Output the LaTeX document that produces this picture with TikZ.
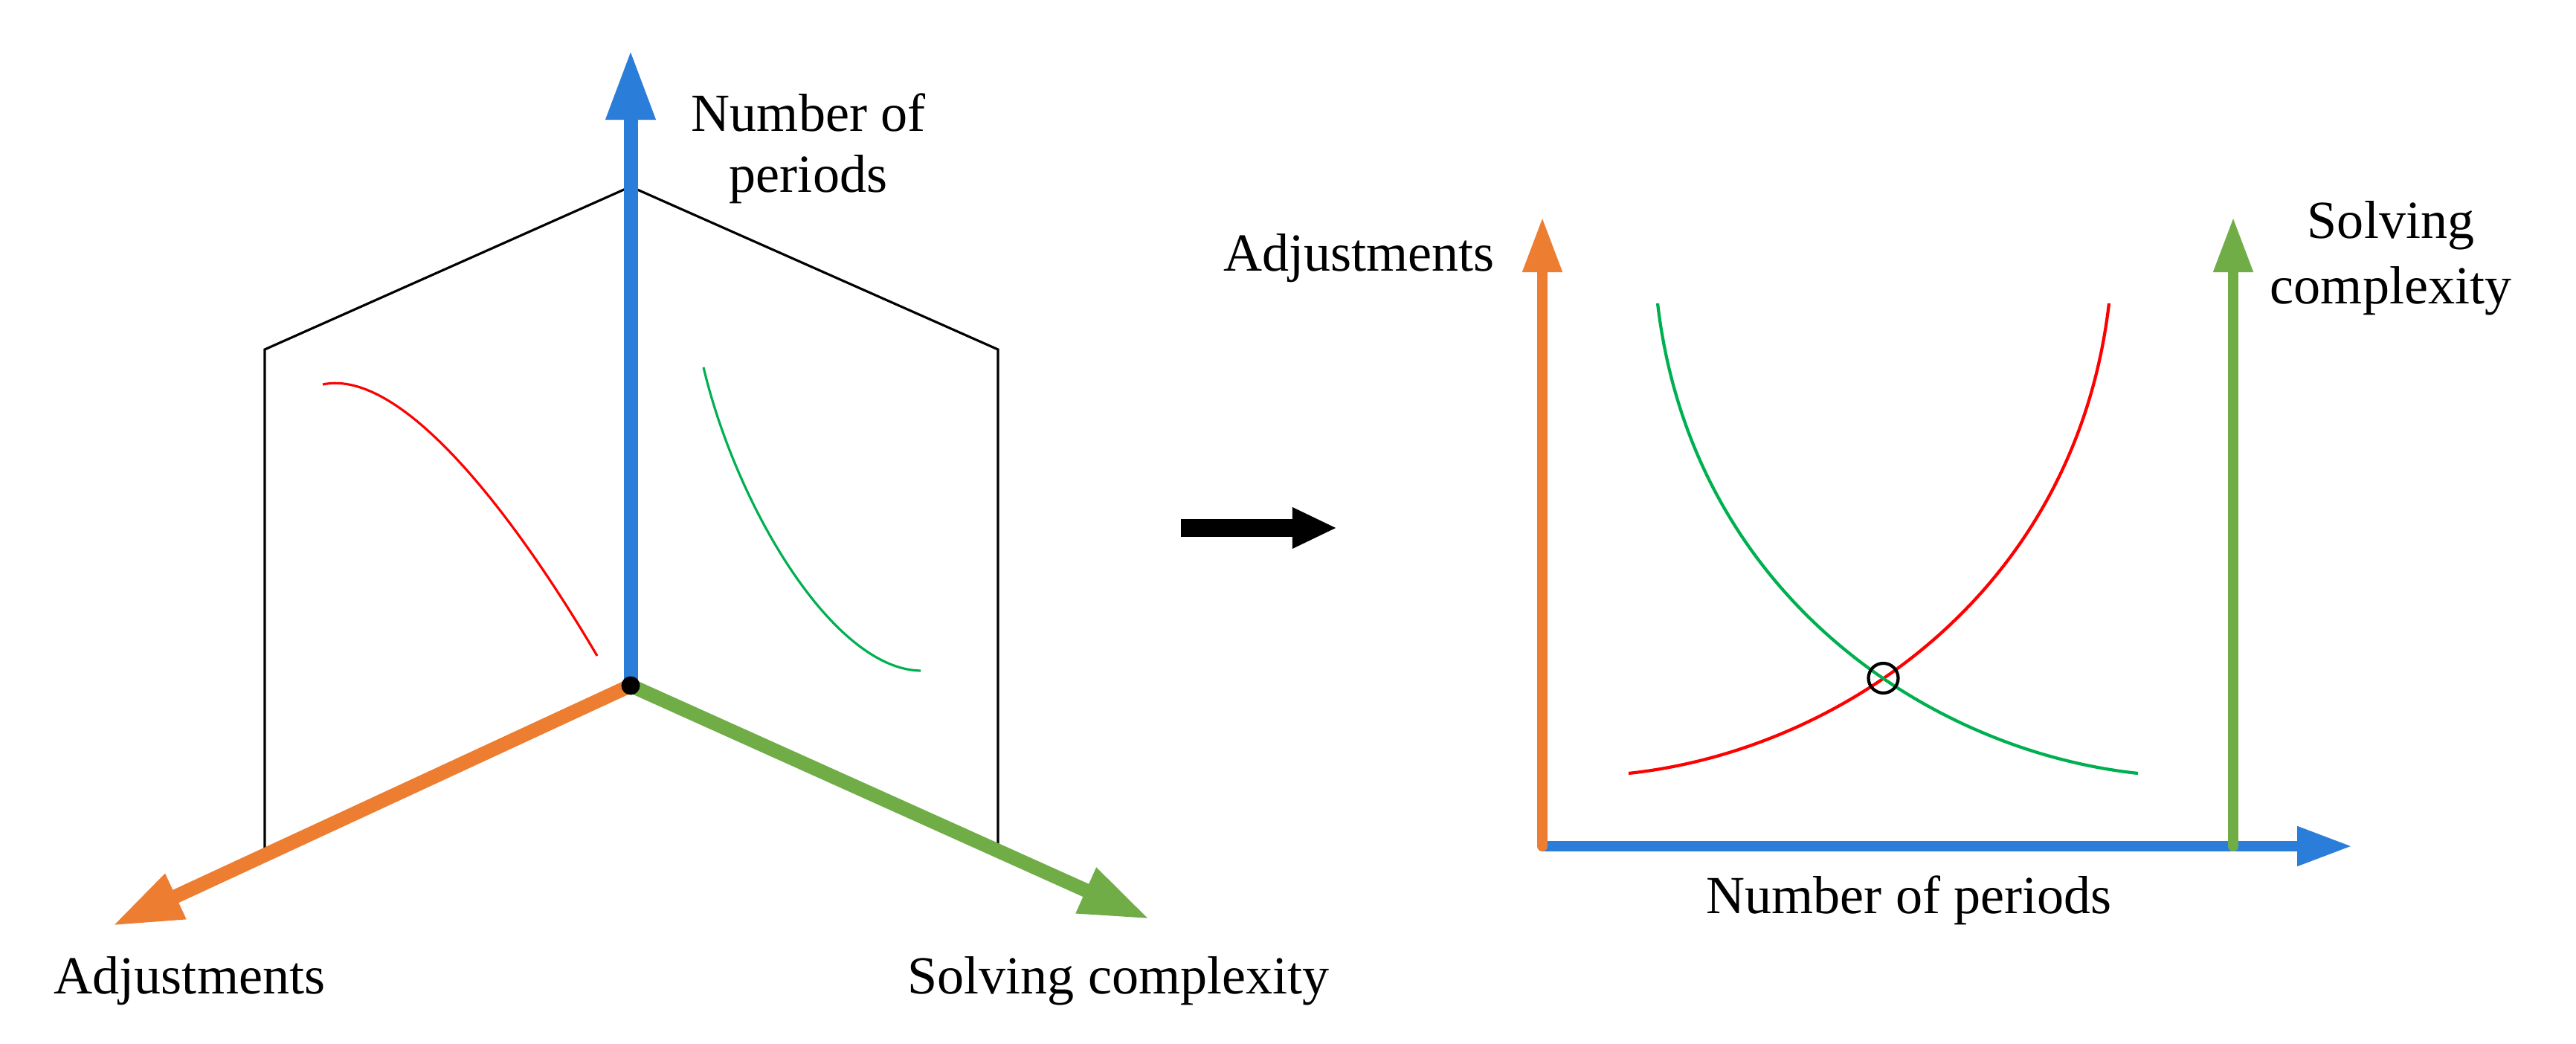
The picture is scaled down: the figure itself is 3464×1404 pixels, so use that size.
\documentclass[tikz,border=0pt]{standalone}
\usepackage{fontspec}
\setmainfont{Liberation Serif}
\usetikzlibrary{arrows.meta}
\definecolor{axblue}{HTML}{2A7DD8}
\definecolor{axorange}{HTML}{ED7D31}
\definecolor{axgreen}{HTML}{70AD47}
\definecolor{cvgreen}{HTML}{00B050}
\definecolor{cvred}{HTML}{FF0000}
\begin{document}
\begin{tikzpicture}[x=0.01cm,y=-0.01cm,
  bigaxis/.style={line width=5.4pt, -{Triangle[length=0.94cm,width=0.62cm]}},
  smallaxis/.style={line width=4pt, -{Triangle[length=0.74cm,width=0.5cm]}},
  frame/.style={black, line width=0.9pt, line join=miter},
  thincurve/.style={line width=0.9pt},
  curve/.style={line width=1.2pt},
  lbl/.style={font=\fontsize{20.5pt}{23.3pt}\selectfont, inner sep=0pt},
]
\useasboundingbox (0,0) rectangle (3464,1404);
\fill[white] (0,0) rectangle (3464,1404);

% ---- left 3D sketch ----
\coordinate (O) at (848,922);
\coordinate (Ztip) at (848,67);
\coordinate (Xtip) at (151,1245);
\coordinate (Ytip) at (1546,1236);
\coordinate (PL) at (356,1150);
\coordinate (PLT) at (356,470);
\coordinate (PT) at (848,251);
\coordinate (PRT) at (1342,470);
\coordinate (PR) at (1342,1144);

\draw[frame] (PL) -- (PLT) -- (PT) -- (PRT) -- (PR);
\draw[cvred, thincurve] (434,517) .. controls (540,495) and (690,690) .. (803,882);
\draw[cvgreen, thincurve] (946,494) .. controls (990,680) and (1120,900) .. (1238,902);
\draw[bigaxis, axblue] (O) -- (Ztip);
\draw[bigaxis, axorange] (O) -- (Xtip);
\draw[bigaxis, axgreen] (O) -- (Ytip);
\fill[black] (O) circle[radius=12.5];

\node[lbl, align=center] (zlabel) at (1087,200) {Number of\\periods};
\node[lbl, anchor=base] (xlabel) at (255,1336) {Adjustments};
\node[lbl, anchor=base] (ylabel) at (1504,1336) {Solving complexity};

% ---- middle arrow ----
\coordinate (Ma) at (1588,710);
\coordinate (Mb) at (1798,710);
\draw[black, line width=7.1pt, -{Triangle[length=0.6cm,width=0.51cm]}] (Ma) -- (Mb);

% ---- right 2D plot ----
\coordinate (R0) at (2074,1138);
\coordinate (Rytip) at (2074,292);
\coordinate (Rxtip) at (3163,1138);
\coordinate (G0) at (3003,1138);
\coordinate (Gtip) at (3003,292);
\draw[smallaxis, axblue] (R0) -- (Rxtip);
\draw[smallaxis, axorange, line cap=round] (R0) -- (Rytip);
\draw[smallaxis, axgreen, line cap=round] (G0) -- (Gtip);

\draw[cvred, curve] (2190,1040) .. controls (2470,1010) and (2790,800) .. (2836,408);
\draw[cvgreen, curve] (2875,1040) .. controls (2595,1010) and (2275,800) .. (2229,408);
\coordinate (X) at (2532.5,912);
\draw[black, curve] (X) circle[radius=20];

\node[lbl, anchor=base] (radj) at (1827.5,365) {Adjustments};
\node[lbl, align=center, font=\fontsize{20.5pt}{25pt}\selectfont] (rsolv) at (3215,347.5) {Solving\\complexity};
\node[lbl, anchor=base] (rnum) at (2567,1228) {Number of periods};
\end{tikzpicture}
\end{document}
